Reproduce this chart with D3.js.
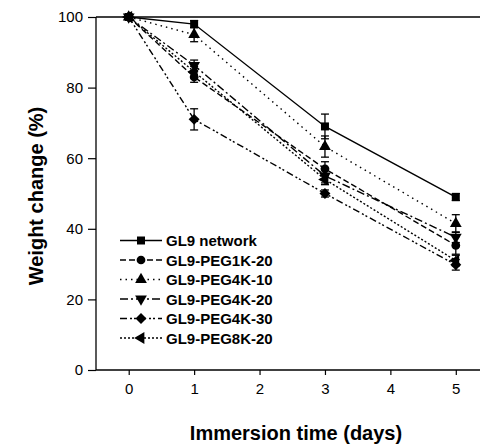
<!DOCTYPE html>
<html lang="en">
<head>
    <meta charset="UTF-8">
    <title>Weight change</title>
    <script src="https://cdn.jsdelivr.net/npm/d3@7/dist/d3.min.js"></script>
    <style>
        body { margin: 0; background: #fff; }
        text { font-family: "Liberation Sans", Arial, sans-serif; fill: #000; }
    </style>
</head>
<body>
<script>
    // data
    var days = [0, 1, 3, 5];
    var seriesNames = ["GL9 network", "GL9-PEG1K-20", "GL9-PEG4K-10", "GL9-PEG4K-20", "GL9-PEG4K-30", "GL9-PEG8K-20"];
    var gl9 = [100, 98, 69, 49];
    var peg1k20 = [100, 83, 57, 35.3];
    var peg4k10 = [100, 95, 63.3, 41.5];
    var peg4k20 = [100, 86.3, 55, 37.6];
    var peg4k30 = [100, 71, 50, 29.8];
    var peg8k20 = [100, 84.5, 54, 31];
    var gl9Err = [0, 1, 3.5, 1];
    var peg1k20Err = [0, 1.5, 2, 2.5];
    var peg4k10Err = [0, 2, 3, 2.5];
    var peg4k20Err = [0, 1.5, 2, 1.5];
    var peg4k30Err = [0, 3, 1, 1.5];
    var peg8k20Err = [0, 1.5, 1.5, 1.5];
    var yTicks = [0, 20, 40, 60, 80, 100];
    var xTicks = [0, 1, 2, 3, 4, 5];

    (function () {
        var width = 482, height = 444;
        var pLeft = 96, pRight = 480, pTop = 17, pBottom = 370;

        var svg = d3.select("body").append("svg")
            .attr("width", width)
            .attr("height", height);

        var x = d3.scaleLinear().domain([-0.5, 5.37]).range([pLeft, pRight]);
        var y = d3.scaleLinear().domain([0, 100]).range([pBottom, pTop]);

        var series = [
            { name: seriesNames[0], vals: gl9, err: gl9Err, dash: null, sym: d3.symbolSquare, size: 64, rot: 0 },
            { name: seriesNames[1], vals: peg1k20, err: peg1k20Err, dash: "6,3", sym: d3.symbolCircle, size: 60, rot: 0 },
            { name: seriesNames[2], vals: peg4k10, err: peg4k10Err, dash: "1.5,4", sym: d3.symbolTriangle, size: 60, rot: 0 },
            { name: seriesNames[3], vals: peg4k20, err: peg4k20Err, dash: "8,3,2,3", sym: d3.symbolTriangle, size: 60, rot: 180 },
            { name: seriesNames[4], vals: peg4k30, err: peg4k30Err, dash: "7,3,2,2,2,3", sym: d3.symbolSquare, size: 60, rot: 45 },
            { name: seriesNames[5], vals: peg8k20, err: peg8k20Err, dash: "2,2", sym: d3.symbolTriangle, size: 60, rot: -90 }
        ];

        // axes
        var yAxis = d3.axisLeft(y).tickValues(yTicks).tickFormat(d3.format("d")).tickSize(8).tickPadding(5);
        var xAxis = d3.axisBottom(x).tickValues(xTicks).tickFormat(d3.format("d")).tickSize(5).tickPadding(8);

        var gy = svg.append("g").attr("transform", "translate(" + pLeft + ",0)").call(yAxis);
        var gx = svg.append("g").attr("transform", "translate(0," + pBottom + ")").call(xAxis);
        [gx, gy].forEach(function (g) {
            g.select(".domain").remove();
            g.selectAll("line").attr("stroke", "#000").attr("stroke-width", 1.2);
            g.selectAll("text").style("font-size", "15px").style("font-family", "Liberation Sans, Arial, sans-serif");
        });

        // frame: left, bottom, top
        svg.append("line").attr("x1", pLeft).attr("x2", pLeft).attr("y1", pTop).attr("y2", pBottom)
            .attr("stroke", "#000").attr("stroke-width", 1.3);
        svg.append("line").attr("x1", pLeft).attr("x2", pRight).attr("y1", pBottom).attr("y2", pBottom)
            .attr("stroke", "#000").attr("stroke-width", 1.3);
        svg.append("line").attr("x1", pLeft).attr("x2", pRight).attr("y1", pTop).attr("y2", pTop)
            .attr("stroke", "#000").attr("stroke-width", 1.3);

        var line = d3.line()
            .x(function (d, i) { return x(days[i]); })
            .y(function (d) { return y(d); });

        series.forEach(function (s) {
            var g = svg.append("g");
            g.append("path")
                .attr("d", line(s.vals))
                .attr("fill", "none")
                .attr("stroke", "#000")
                .attr("stroke-width", 1.4)
                .attr("stroke-dasharray", s.dash);

            s.vals.forEach(function (v, i) {
                if (s.err[i] > 0) {
                    var cx = x(days[i]);
                    g.append("line").attr("x1", cx).attr("x2", cx)
                        .attr("y1", y(v - s.err[i])).attr("y2", y(v + s.err[i]))
                        .attr("stroke", "#000").attr("stroke-width", 1.3);
                    [v - s.err[i], v + s.err[i]].forEach(function (e) {
                        g.append("line").attr("x1", cx - 4).attr("x2", cx + 4)
                            .attr("y1", y(e)).attr("y2", y(e))
                            .attr("stroke", "#000").attr("stroke-width", 1.3);
                    });
                }
            });

            g.selectAll(".pt").data(s.vals).enter().append("path")
                .attr("d", d3.symbol().type(s.sym).size(s.size))
                .attr("transform", function (d, i) {
                    return "translate(" + x(days[i]) + "," + y(d) + ") rotate(" + s.rot + ")";
                })
                .attr("fill", "#000");
        });

        // legend
        var lg = svg.append("g");
        series.forEach(function (s, i) {
            var ly = 240.5 + i * 19.5;
            lg.append("line").attr("x1", 120).attr("x2", 162).attr("y1", ly).attr("y2", ly)
                .attr("stroke", "#000").attr("stroke-width", 1.4)
                .attr("stroke-dasharray", s.dash);
            lg.append("path")
                .attr("d", d3.symbol().type(s.sym).size(s.size))
                .attr("transform", "translate(141," + ly + ") rotate(" + s.rot + ")")
                .attr("fill", "#000");
            lg.append("text").attr("x", 166).attr("y", ly + 5.5)
                .style("font-size", "15px").style("font-weight", "bold")
                .text(s.name);
        });

        // axis titles
        svg.append("text")
            .attr("x", 296).attr("y", 440)
            .attr("text-anchor", "middle")
            .style("font-size", "20px").style("font-weight", "bold")
            .text("Immersion time (days)");
        svg.append("text")
            .attr("transform", "translate(43,196) rotate(-90)")
            .attr("text-anchor", "middle")
            .style("font-size", "20px").style("font-weight", "bold")
            .text("Weight change (%)");
    })();
</script>
</body>
</html>
